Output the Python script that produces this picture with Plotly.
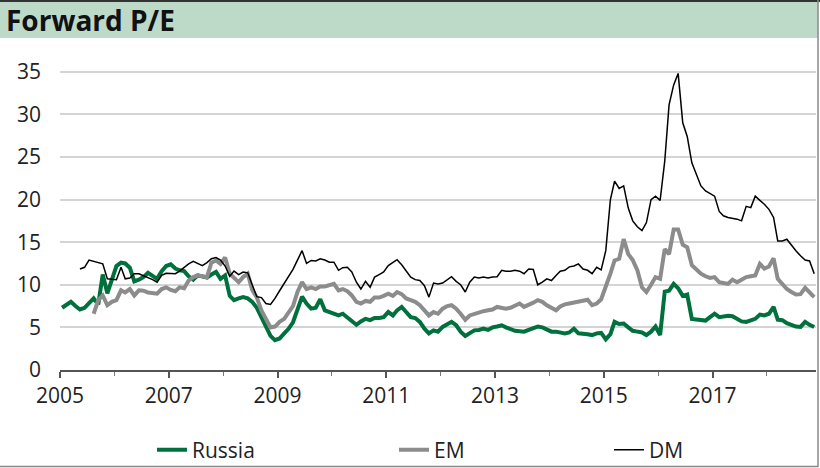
import pandas as pd
import plotly.graph_objects as go

# ---------------- data (monthly, Jan 2005 - Nov 2018) ----------------
months = pd.date_range("2005-01-01", periods=167, freq="MS") + pd.Timedelta(days=14)

russia = [
    7.3, 7.7, 8.0, 7.5, 7.1, 7.3, 7.8, 8.4, 7.7, 11.2, 9.0, 10.6,
    12.2, 12.6, 12.5, 12.0, 10.4, 10.6, 10.9, 11.4, 11.0, 10.7, 11.6, 12.2,
    12.4, 11.9, 11.7, 11.6, 11.0, 10.6, 11.1, 11.0, 10.85, 11.2, 11.5, 10.7,
    11.1, 8.7, 8.2, 8.4, 8.55, 8.4, 8.0, 7.3, 6.2, 5.1, 4.0, 3.5,
    3.7, 4.3, 4.8, 5.6, 7.0, 8.6, 7.8, 7.2, 7.3, 8.3, 7.0, 6.8,
    6.6, 6.4, 6.6, 6.2, 5.7, 5.3, 5.7, 6.0, 5.85, 6.1, 6.1, 6.2,
    6.8, 6.4, 7.0, 7.4, 6.8, 6.2, 6.1, 5.65, 4.85, 4.3, 4.65, 4.5,
    5.05, 5.4, 5.65, 5.25, 4.5, 4.0, 4.3, 4.65, 4.7, 4.85, 4.7, 5.0,
    5.1, 5.25, 5.0, 4.8, 4.6, 4.55, 4.5, 4.7, 4.9, 5.1, 5.0, 4.8,
    4.5, 4.5, 4.35, 4.3, 4.4, 4.85, 4.3, 4.3, 4.2, 4.1, 4.3, 4.35,
    3.6, 4.2, 5.65, 5.4, 5.45, 5.0, 4.6, 4.5, 4.4, 4.1, 4.5, 5.1,
    4.1, 9.2, 9.3, 10.1, 9.6, 8.7, 8.85, 6.0, 5.9, 5.85, 5.8, 6.2,
    6.6, 6.2, 6.3, 6.35, 6.3, 6.0, 5.7, 5.65, 5.8, 6.0, 6.5, 6.4,
    6.6, 7.4, 5.9, 5.85, 5.5, 5.25, 5.1, 5.05, 5.65, 5.3, 5.05,
]

em = [
    None, None, None, None, None, None, None, 6.6, 8.2, 8.75, 7.6, 8.0,
    8.2, 9.35, 9.1, 9.5, 8.75, 9.35, 9.3, 9.1, 9.0, 8.95, 9.5, 9.7,
    9.4, 9.25, 9.7, 9.6, 10.5, 10.9, 11.1, 11.0, 10.9, 12.6, 12.85, 12.45,
    13.2, 11.3, 10.8, 10.3, 10.9, 11.3, 9.4, 8.5, 7.0, 5.9, 5.0, 5.1,
    5.65, 6.0, 6.8, 7.5, 9.15, 10.3, 9.5, 9.7, 9.5, 9.8, 9.8, 9.9,
    10.1, 9.35, 9.5, 9.25, 8.75, 8.0, 7.8, 8.1, 8.0, 8.5, 8.5, 8.7,
    8.95, 8.7, 9.15, 8.9, 8.4, 8.2, 8.0, 7.6, 7.0, 6.4, 6.8, 6.6,
    7.2, 7.5, 7.6, 7.2, 6.6, 5.9, 6.4, 6.6, 6.8, 6.9, 7.0, 7.1,
    7.4, 7.3, 7.2, 7.3, 7.6, 7.8, 7.4, 7.6, 7.9, 8.2, 8.0, 7.6,
    7.3, 7.0, 7.45, 7.7, 7.8, 7.9, 8.0, 8.1, 8.25, 7.6, 7.8, 8.3,
    9.7, 11.3, 12.85, 13.05, 15.35, 13.6, 12.9, 11.7, 9.7, 9.15, 10.0, 10.9,
    10.7, 14.2, 13.6, 16.5, 16.5, 14.7, 14.4, 12.3, 11.8, 11.3, 11.0, 10.8,
    10.9, 10.3, 10.2, 10.1, 10.6, 10.3, 10.6, 10.9, 11.0, 11.1, 12.45, 11.9,
    12.15, 13.1, 10.7, 10.1, 9.5, 9.15, 8.85, 8.9, 9.65, 9.1, 8.55,
]

dm = [
    None, None, None, None, 11.85, 12.05, 12.9, 12.75, 12.65, 12.45, 10.7, 10.65,
    10.6, 12.05, 10.7, 10.8, 11.3, 11.3, 11.1, 10.9, 10.6, 10.3, 11.1, 11.35,
    11.35, 11.3, 11.6, 12.05, 12.45, 12.75, 12.5, 12.25, 12.6, 13.05, 13.2, 12.9,
    12.2, 11.0, 11.6, 11.2, 11.5, 11.4, 10.0, 8.6, 8.5, 7.8, 7.7, 8.4,
    9.3, 10.2, 11.0, 11.8, 12.9, 14.0, 12.5, 12.85, 12.8, 13.05, 12.9, 12.65,
    12.65, 11.7, 12.0, 12.05, 11.5, 10.3, 9.5, 10.4, 9.7, 10.9, 11.2, 11.5,
    12.25, 12.65, 12.95, 12.35, 11.7, 10.9, 10.6, 10.5, 9.9, 8.55, 10.2, 10.1,
    10.2, 10.6, 10.95, 10.4, 10.0, 9.15, 10.3, 10.9, 10.8, 10.9, 10.8, 10.9,
    10.95, 11.7, 11.6, 11.6, 11.7, 11.6, 11.3, 11.85, 11.8, 10.0, 10.3, 10.7,
    10.5, 11.1, 11.6, 11.7, 12.1, 12.2, 12.45, 11.85, 11.7, 11.3, 12.05, 11.75,
    14.0, 20.0, 22.15, 21.3, 21.6, 19.0, 17.5, 16.8, 16.35, 17.3, 20.0, 20.4,
    19.9, 24.5, 31.1, 33.45, 34.8, 29.0, 27.4, 24.3, 23.0, 21.6, 21.0, 20.7,
    20.4, 18.6, 18.1, 17.9, 17.8, 17.7, 17.5, 19.2, 19.05, 20.4, 19.9, 19.45,
    18.85, 17.9, 15.15, 15.15, 15.35, 14.6, 14.0, 13.4, 12.9, 12.8, 11.3, 11.1,
]

y_ticks = [0, 5, 10, 15, 20, 25, 30, 35]
x_tick_years = [2005, 2007, 2009, 2011, 2013, 2015, 2017]

# ---------------- geometry helpers ----------------
W, H = 820, 468
L, R, T, B = 60, 4, 70, 98
PW, PH = W - L - R, H - T - B


def px(x):
    return (x - L) / PW


def py(y):
    return (H - B - y) / PH


FONT = "Open Sans"
GREEN = "#00703c"
GREY = "#8c8c8c"

fig = go.Figure()
fig.add_trace(go.Scatter(x=months, y=russia, mode="lines", name="Russia",
                         line=dict(color=GREEN, width=4), legend="legend",
                         showlegend=True))
fig.add_trace(go.Scatter(x=months, y=em, mode="lines", name="EM",
                         line=dict(color=GREY, width=4), legend="legend2",
                         showlegend=True))
fig.add_trace(go.Scatter(x=months, y=dm, mode="lines", name="DM",
                         line=dict(color="#000000", width=1.5), legend="legend3",
                         showlegend=True))

legend_common = dict(orientation="h", yanchor="middle", xanchor="left",
                     bgcolor="rgba(0,0,0,0)", borderwidth=0,
                     font=dict(family=FONT, size=21, color="#222"))

fig.update_layout(
    width=W, height=H,
    margin=dict(l=L, r=R, t=T, b=B, autoexpand=False),
    paper_bgcolor="white", plot_bgcolor="white",
    font=dict(family=FONT, color="#222"),
    showlegend=True,
    legend=dict(x=px(152), y=py(450), **legend_common),
    legend2=dict(x=px(394), y=py(450), **legend_common),
    legend3=dict(x=px(609), y=py(450), **legend_common),
    xaxis=dict(
        type="date",
        range=["2005-01-01", "2018-11-27"],
        tickmode="array",
        tickvals=[f"{y}-01-01" for y in x_tick_years],
        ticktext=[str(y) for y in x_tick_years],
        ticks="outside", ticklen=6, tickwidth=1.5, tickcolor="#555",
        minor=dict(dtick="M12", tick0="2005-01-01", ticks="outside",
                   ticklen=4, tickwidth=1, tickcolor="#777", showgrid=False),
        showline=True, linecolor="#555", linewidth=1.5,
        showgrid=False, zeroline=False,
        tickfont=dict(family=FONT, size=21, color="#222"),
    ),
    yaxis=dict(
        range=[0, 35.2],
        tickmode="array", tickvals=y_ticks,
        showgrid=True, gridcolor="#d4d4d4", gridwidth=1.5,
        zeroline=False, showline=False,
        ticks="", ticklabelstandoff=18,
        tickfont=dict(family=FONT, size=21, color="#222"),
    ),
    shapes=[
        # title band
        dict(type="rect", xref="paper", yref="paper",
             x0=px(0), x1=px(818), y0=py(38), y1=py(2),
             fillcolor="#bdd9c8", line=dict(width=0), layer="below"),
        # top border
        dict(type="line", xref="paper", yref="paper",
             x0=px(0), x1=px(820), y0=py(1), y1=py(1),
             line=dict(color="#333", width=2)),
        # right border
        dict(type="line", xref="paper", yref="paper",
             x0=px(818), x1=px(818), y0=py(0), y1=py(467),
             line=dict(color="#888", width=1.5)),
        # bottom border
        dict(type="line", xref="paper", yref="paper",
             x0=px(0), x1=px(818), y0=py(466.5), y1=py(466.5),
             line=dict(color="#888", width=1.5)),
    ],
    annotations=[
        dict(text="<b>Forward P/E</b>", xref="paper", yref="paper",
             x=px(4), y=py(20), xanchor="left", yanchor="middle",
             showarrow=False, font=dict(family=FONT, size=28, color="#111")),
    ],
)

fig.write_html("out.html")
